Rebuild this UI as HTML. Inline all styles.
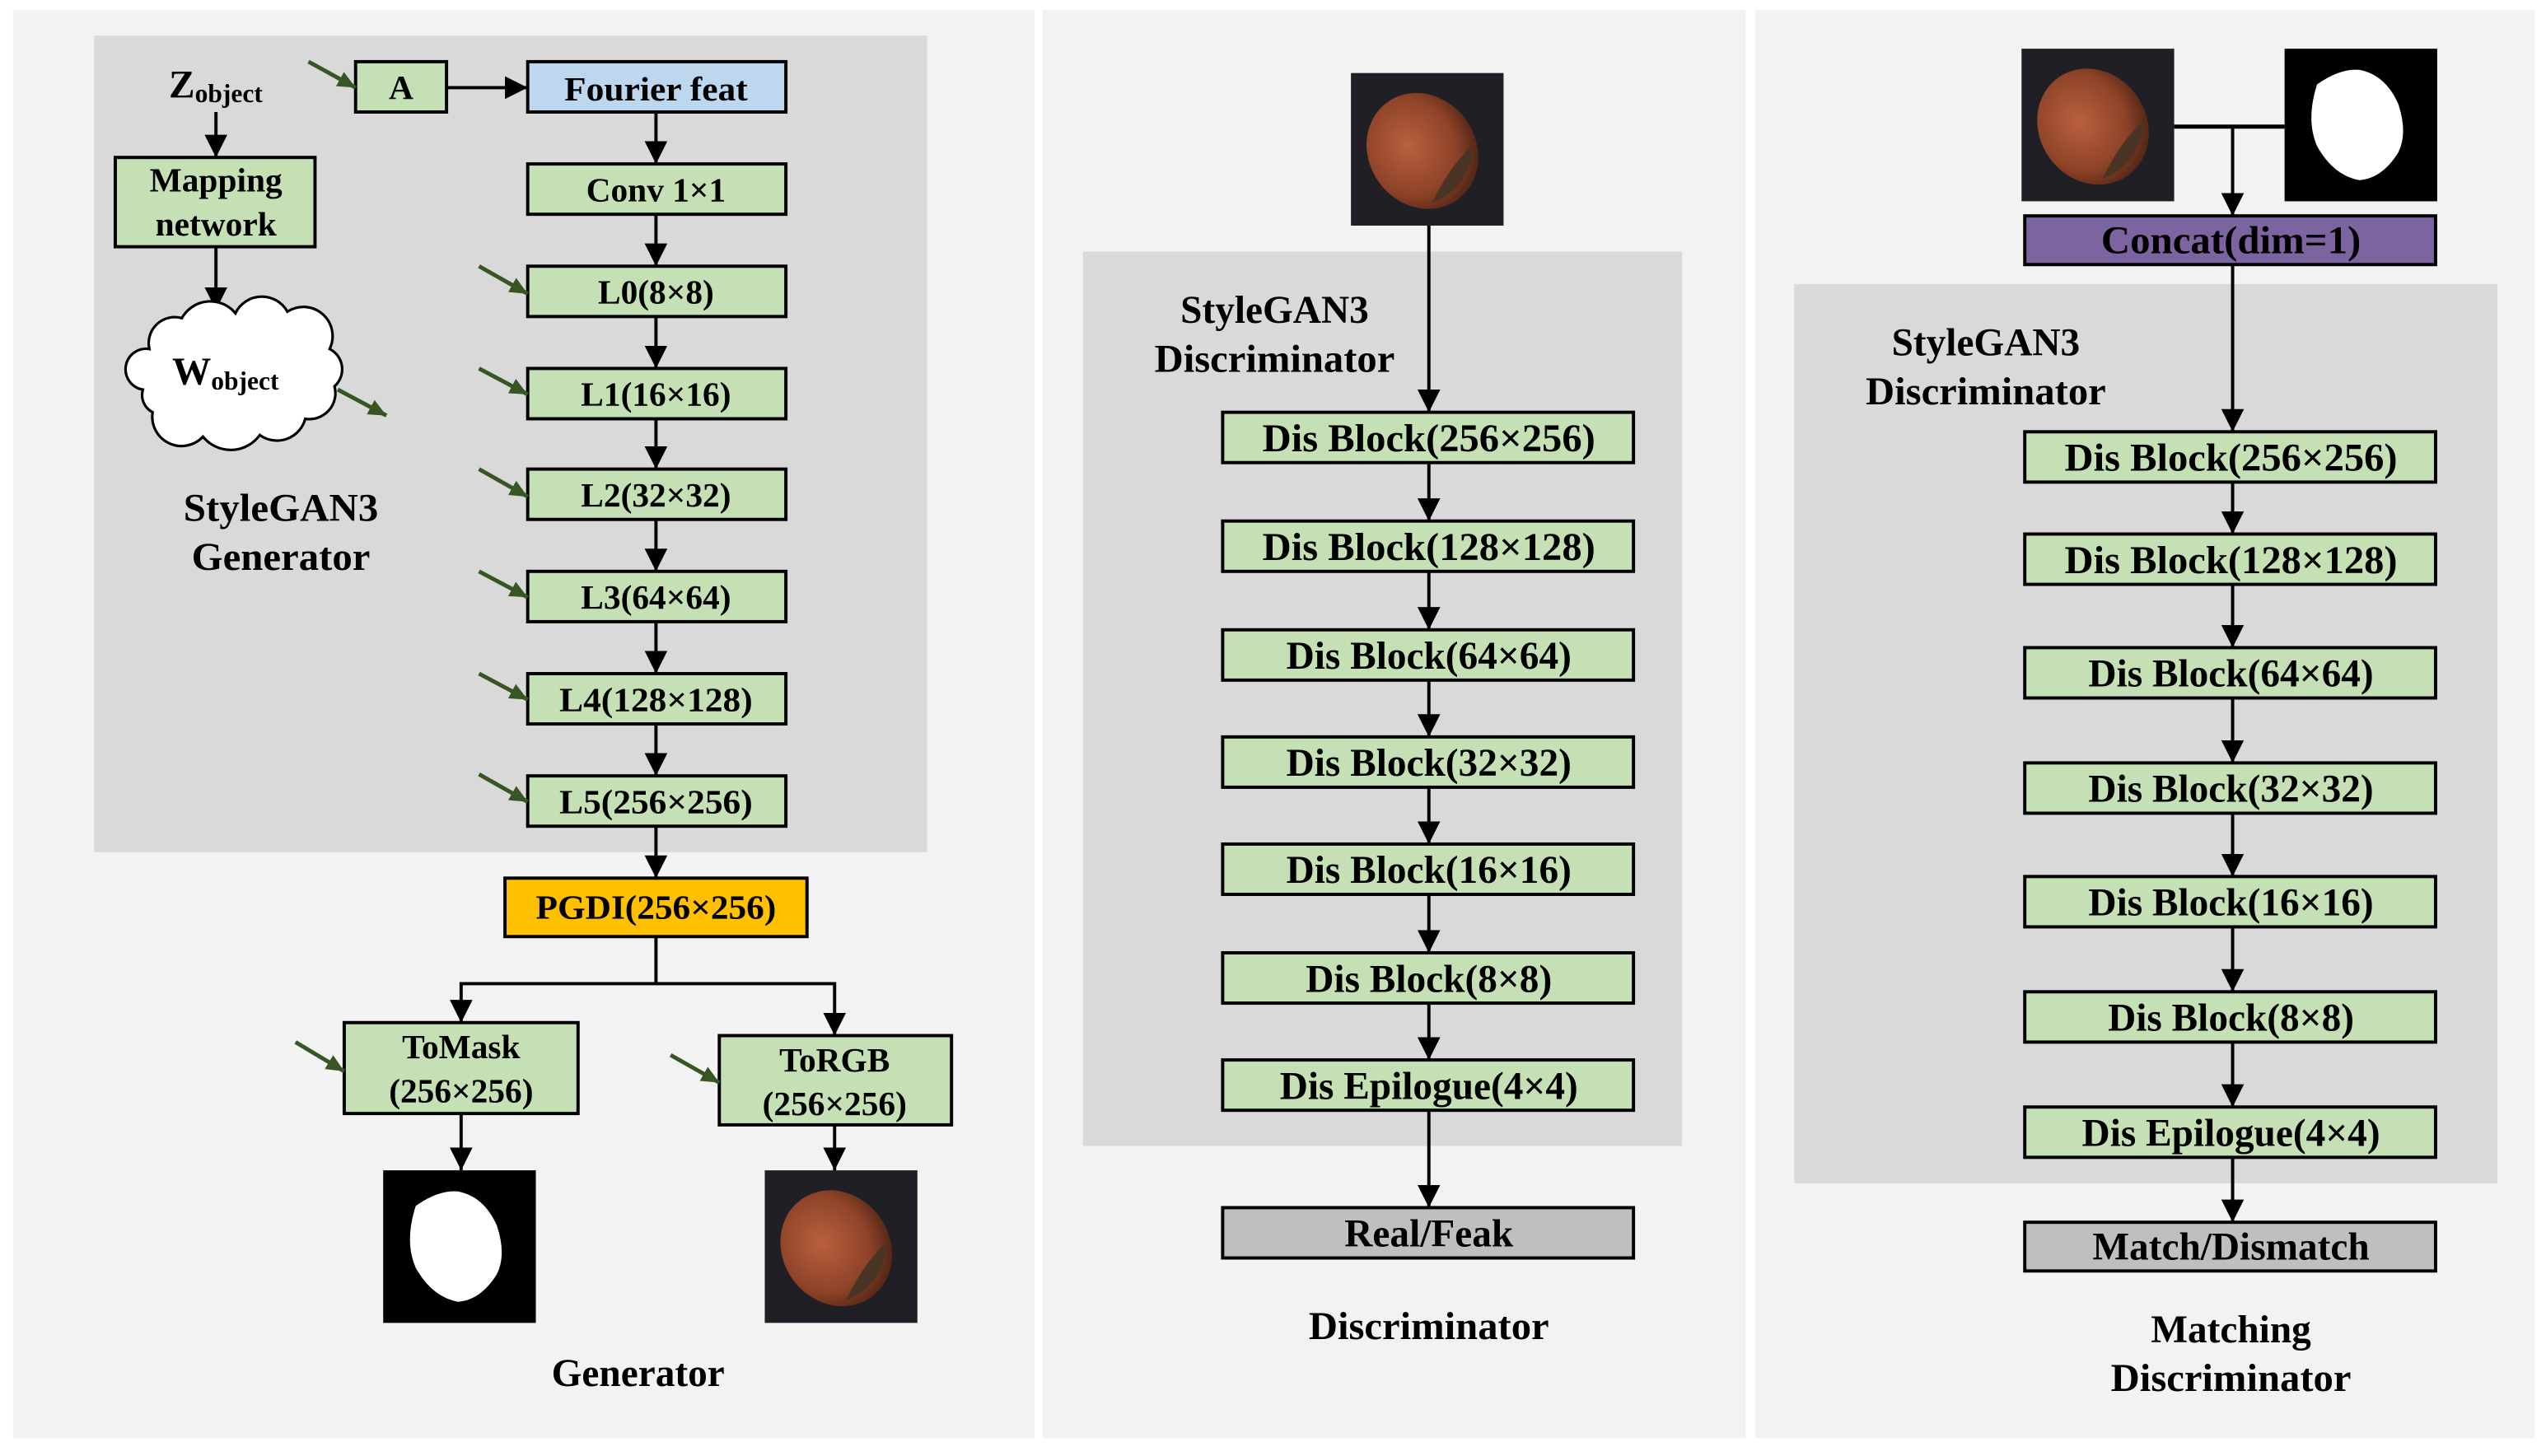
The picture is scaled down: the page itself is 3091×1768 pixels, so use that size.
<!DOCTYPE html>
<html><head><meta charset="utf-8"><style>
html,body{margin:0;padding:0;background:#fff}
svg{display:block}
text{font-family:"Liberation Serif",serif;font-weight:bold;fill:#000}
</style></head><body>
<svg width="3091" height="1768" viewBox="0 0 1568 897" preserveAspectRatio="none" xmlns="http://www.w3.org/2000/svg">
<defs>
<marker id="ah" markerUnits="userSpaceOnUse" markerWidth="14" markerHeight="16" refX="14" refY="7" orient="auto"><path d="M0,0 L14,7 L0,14 z" fill="#000"/></marker>
<marker id="gh" markerUnits="userSpaceOnUse" markerWidth="12" markerHeight="12" refX="11" refY="5" orient="auto"><path d="M0,0 L11,5 L0,10 z" fill="#375623"/></marker>
<radialGradient id="nut" cx="0.42" cy="0.4" r="0.6"><stop offset="0" stop-color="#b9603f"/><stop offset="0.7" stop-color="#8e4328"/><stop offset="1" stop-color="#5a2a18"/></radialGradient>
<g id="nutimg">
<rect x="0" y="0" width="94" height="94" fill="#1f1f25"/>
<ellipse cx="44" cy="48" rx="33" ry="37" transform="rotate(-35 44 48)" fill="url(#nut)"/>
<path d="M50,80 Q72,72 76,44 Q62,55 50,80z" fill="#4a3426"/>
</g>
<g id="maskimg">
<rect x="0" y="0" width="94" height="94" fill="#000"/>
<path d="M20,22 Q34,12 46,13 Q62,16 70,34 Q76,52 70,64 Q60,80 46,81 Q30,78 20,60 Q13,44 20,22z" fill="#fff"/>
</g>
</defs>

<rect x="8" y="6" width="629" height="880" fill="#f2f2f2"/>
<rect x="642" y="6" width="433" height="880" fill="#f2f2f2"/>
<rect x="1081" y="6" width="480" height="880" fill="#f2f2f2"/>

<!-- ===== Generator ===== -->
<rect x="58" y="22" width="513" height="503" fill="#d9d9d9"/>
<g stroke="#000" stroke-width="2">
<rect x="219" y="38" width="56" height="31" fill="#c5e0b4"/>
<rect x="325" y="38" width="159" height="31" fill="#bdd7ee"/>
<rect x="325" y="101" width="159" height="31" fill="#c5e0b4"/>
<rect x="325" y="164" width="159" height="31" fill="#c5e0b4"/>
<rect x="325" y="227" width="159" height="31" fill="#c5e0b4"/>
<rect x="325" y="289" width="159" height="31" fill="#c5e0b4"/>
<rect x="325" y="352" width="159" height="31" fill="#c5e0b4"/>
<rect x="325" y="415" width="159" height="31" fill="#c5e0b4"/>
<rect x="325" y="478" width="159" height="31" fill="#c5e0b4"/>
<rect x="71" y="97" width="123" height="55" fill="#c5e0b4"/>
<rect x="311" y="541" width="186" height="36" fill="#ffc000"/>
<rect x="212" y="630" width="144" height="56" fill="#c5e0b4"/>
<rect x="443" y="638" width="143" height="55" fill="#c5e0b4"/>
</g>
<g stroke="#000" stroke-width="2" fill="none" marker-end="url(#ah)">
<line x1="275" y1="54" x2="325" y2="54"/>
<line x1="404" y1="69" x2="404" y2="101"/>
<line x1="404" y1="132" x2="404" y2="164"/>
<line x1="404" y1="195" x2="404" y2="227"/>
<line x1="404" y1="258" x2="404" y2="289"/>
<line x1="404" y1="320" x2="404" y2="352"/>
<line x1="404" y1="383" x2="404" y2="415"/>
<line x1="404" y1="446" x2="404" y2="478"/>
<line x1="404" y1="509" x2="404" y2="541"/>
<line x1="133" y1="69" x2="133" y2="97"/>
<line x1="133" y1="152" x2="133" y2="191"/>
<path d="M404,577 V606 H284 V630"/>
<path d="M404,606 H514 V638"/>
<line x1="284" y1="686" x2="284" y2="721"/>
<line x1="514" y1="693" x2="514" y2="721"/>
</g>
<g stroke="#375623" stroke-width="2.5" marker-end="url(#gh)">
<line x1="190" y1="38" x2="219" y2="54"/>
<line x1="295" y1="164" x2="325" y2="181"/>
<line x1="295" y1="227" x2="325" y2="243"/>
<line x1="295" y1="289" x2="325" y2="306"/>
<line x1="295" y1="352" x2="325" y2="368"/>
<line x1="295" y1="415" x2="325" y2="431"/>
<line x1="295" y1="477" x2="325" y2="494"/>
<line x1="208" y1="240" x2="238" y2="256"/>
<line x1="182" y1="642" x2="212" y2="660"/>
<line x1="413" y1="650" x2="443" y2="667"/>
</g>
<path d="M92,215 A16,16 0 0 1 112,196 A20,20 0 0 1 145,193 A18,18 0 0 1 177,192 A18,18 0 0 1 203,215 A14,14 0 0 1 206,238 A16,16 0 0 1 188,258 A18,18 0 0 1 160,268 A22,22 0 0 1 125,269 A18,18 0 0 1 94,254 A12,12 0 0 1 88,240 A12,12 0 0 1 92,215z" fill="#fff" stroke="#000" stroke-width="1.6"/>
<text x="106" y="237" font-size="24">W<tspan font-size="16" dy="3">object</tspan></text>
<text x="104" y="60" font-size="24">Z<tspan font-size="16" dy="3">object</tspan></text>
<text x="133" y="118" font-size="21" text-anchor="middle">Mapping</text>
<text x="133" y="145" font-size="21" text-anchor="middle">network</text>
<text x="173" y="321" font-size="24" text-anchor="middle" textLength="120" lengthAdjust="spacingAndGlyphs">StyleGAN3</text>
<text x="173" y="351" font-size="24" text-anchor="middle" textLength="110" lengthAdjust="spacingAndGlyphs">Generator</text>
<g font-size="21" text-anchor="middle">
<text x="247" y="61">A</text>
<text x="404" y="62" textLength="113" lengthAdjust="spacingAndGlyphs">Fourier feat</text>
<text x="404" y="124">Conv 1×1</text>
<text x="404" y="187">L0(8×8)</text>
<text x="404" y="250">L1(16×16)</text>
<text x="404" y="312">L2(32×32)</text>
<text x="404" y="375">L3(64×64)</text>
<text x="404" y="438" textLength="119" lengthAdjust="spacingAndGlyphs">L4(128×128)</text>
<text x="404" y="501" textLength="119" lengthAdjust="spacingAndGlyphs">L5(256×256)</text>
<text x="404" y="566" textLength="148" lengthAdjust="spacingAndGlyphs">PGDI(256×256)</text>
<text x="284" y="652">ToMask</text>
<text x="284" y="679">(256×256)</text>
<text x="514" y="660">ToRGB</text>
<text x="514" y="687">(256×256)</text>
</g>
<use href="#maskimg" x="236" y="721"/>
<use href="#nutimg" x="471" y="721"/>
<text x="393" y="854" font-size="24" text-anchor="middle">Generator</text>

<!-- ===== Discriminator ===== -->
<rect x="667" y="155" width="369" height="551" fill="#d9d9d9"/>
<use href="#nutimg" x="832" y="45"/>
<text x="785" y="199" font-size="24" text-anchor="middle">StyleGAN3</text>
<text x="785" y="229" font-size="24" text-anchor="middle" textLength="148" lengthAdjust="spacingAndGlyphs">Discriminator</text>
<g stroke="#000" stroke-width="2" fill="#c5e0b4">
<rect x="753" y="254" width="253" height="31"/>
<rect x="753" y="321" width="253" height="31"/>
<rect x="753" y="388" width="253" height="31"/>
<rect x="753" y="454" width="253" height="31"/>
<rect x="753" y="520" width="253" height="31"/>
<rect x="753" y="587" width="253" height="31"/>
<rect x="753" y="653" width="253" height="31"/>
<rect x="753" y="744" width="253" height="31" fill="#bfbfbf"/>
</g>
<g stroke="#000" stroke-width="2" marker-end="url(#ah)">
<line x1="880" y1="139" x2="880" y2="254"/>
<line x1="880" y1="285" x2="880" y2="321"/>
<line x1="880" y1="352" x2="880" y2="388"/>
<line x1="880" y1="419" x2="880" y2="454"/>
<line x1="880" y1="485" x2="880" y2="520"/>
<line x1="880" y1="551" x2="880" y2="587"/>
<line x1="880" y1="618" x2="880" y2="653"/>
<line x1="880" y1="684" x2="880" y2="744"/>
</g>
<g font-size="24" text-anchor="middle">
<text x="880" y="278" textLength="205" lengthAdjust="spacingAndGlyphs">Dis Block(256×256)</text>
<text x="880" y="345" textLength="205" lengthAdjust="spacingAndGlyphs">Dis Block(128×128)</text>
<text x="880" y="412">Dis Block(64×64)</text>
<text x="880" y="478">Dis Block(32×32)</text>
<text x="880" y="544">Dis Block(16×16)</text>
<text x="880" y="611">Dis Block(8×8)</text>
<text x="880" y="677">Dis Epilogue(4×4)</text>
<text x="880" y="768">Real/Feak</text>
</g>
<text x="880" y="825" font-size="24" text-anchor="middle" textLength="148" lengthAdjust="spacingAndGlyphs">Discriminator</text>

<!-- ===== Matching Discriminator ===== -->
<rect x="1105" y="175" width="433" height="554" fill="#d9d9d9"/>
<use href="#nutimg" x="1245" y="30"/>
<use href="#maskimg" x="1407" y="30"/>
<text x="1223" y="219" font-size="24" text-anchor="middle">StyleGAN3</text>
<text x="1223" y="249" font-size="24" text-anchor="middle" textLength="148" lengthAdjust="spacingAndGlyphs">Discriminator</text>
<g stroke="#000" stroke-width="2" fill="#c5e0b4">
<rect x="1247" y="133" width="253" height="30" fill="#7b64a0"/>
<rect x="1247" y="266" width="253" height="31"/>
<rect x="1247" y="329" width="253" height="31"/>
<rect x="1247" y="399" width="253" height="31"/>
<rect x="1247" y="470" width="253" height="31"/>
<rect x="1247" y="540" width="253" height="31"/>
<rect x="1247" y="611" width="253" height="31"/>
<rect x="1247" y="682" width="253" height="31"/>
<rect x="1247" y="753" width="253" height="30" fill="#bfbfbf"/>
</g>
<line x1="1339" y1="78" x2="1407" y2="78" stroke="#000" stroke-width="2.5"/>
<g stroke="#000" stroke-width="2" marker-end="url(#ah)">
<line x1="1375" y1="78" x2="1375" y2="133"/>
<line x1="1375" y1="163" x2="1375" y2="266"/>
<line x1="1375" y1="297" x2="1375" y2="329"/>
<line x1="1375" y1="360" x2="1375" y2="399"/>
<line x1="1375" y1="430" x2="1375" y2="470"/>
<line x1="1375" y1="501" x2="1375" y2="540"/>
<line x1="1375" y1="571" x2="1375" y2="611"/>
<line x1="1375" y1="642" x2="1375" y2="682"/>
<line x1="1375" y1="713" x2="1375" y2="753"/>
</g>
<g font-size="24" text-anchor="middle">
<text x="1374" y="156" textLength="160" lengthAdjust="spacingAndGlyphs">Concat(dim=1)</text>
<text x="1374" y="290" textLength="205" lengthAdjust="spacingAndGlyphs">Dis Block(256×256)</text>
<text x="1374" y="353" textLength="205" lengthAdjust="spacingAndGlyphs">Dis Block(128×128)</text>
<text x="1374" y="423">Dis Block(64×64)</text>
<text x="1374" y="494">Dis Block(32×32)</text>
<text x="1374" y="564">Dis Block(16×16)</text>
<text x="1374" y="635">Dis Block(8×8)</text>
<text x="1374" y="706">Dis Epilogue(4×4)</text>
<text x="1374" y="776">Match/Dismatch</text>
</g>
<text x="1374" y="827" font-size="24" text-anchor="middle">Matching</text>
<text x="1374" y="857" font-size="24" text-anchor="middle" textLength="148" lengthAdjust="spacingAndGlyphs">Discriminator</text>
</svg>
</body></html>
